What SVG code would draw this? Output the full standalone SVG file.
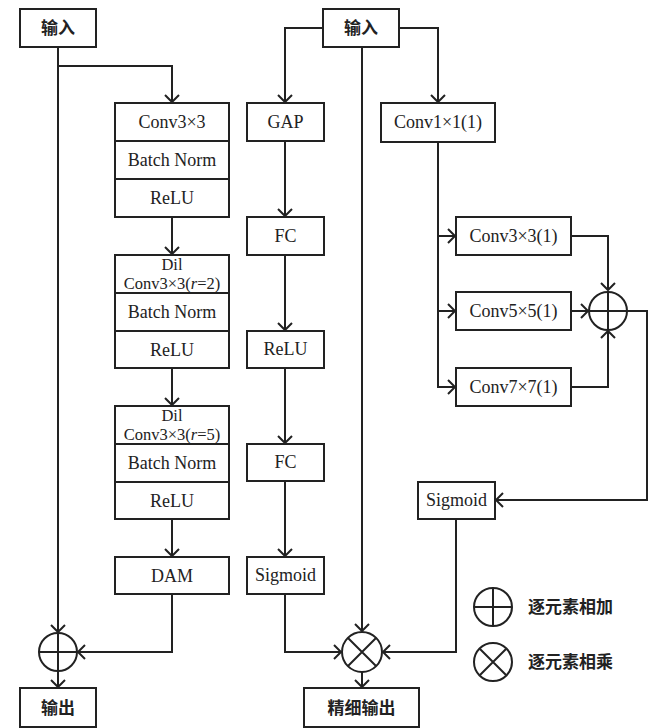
<svg xmlns="http://www.w3.org/2000/svg" width="648" height="728" viewBox="0 0 648 728">
<style>
.box{fill:#fff;stroke:#222;stroke-width:2}
.ln{fill:none;stroke:#222;stroke-width:2}
.t{font-family:"Liberation Serif","Times New Roman",serif;font-size:18px;fill:#222;text-anchor:middle}
.s{font-size:16.5px}
.c{font-family:"Noto Sans CJK SC","Noto Sans",sans-serif;font-size:17px;font-weight:bold;fill:#222;text-anchor:middle}
.lg{font-family:"Noto Sans CJK SC","Noto Sans",sans-serif;font-size:17px;font-weight:bold;fill:#222}
</style>
<defs>
<marker id="a" viewBox="-9 -9 11 18" markerWidth="11" markerHeight="18" refX="0" refY="0" orient="auto" markerUnits="userSpaceOnUse">
<path d="M-7,-7 L0,0 L-7,7" fill="none" stroke="#222" stroke-width="2"/>
</marker>
</defs>
<rect width="648" height="728" fill="#fff"/>

<g id="connectors">
<path class="ln" d="M58,47 V632" marker-end="url(#a)"/>
<path class="ln" d="M58,66 H172 V102" marker-end="url(#a)"/>
<path class="ln" d="M172,217 V254" marker-end="url(#a)"/>
<path class="ln" d="M172,368 V405" marker-end="url(#a)"/>
<path class="ln" d="M172,519 V556" marker-end="url(#a)"/>
<path class="ln" d="M172,594 V652 H78" marker-end="url(#a)"/>
<path class="ln" d="M58,671 V687" marker-end="url(#a)"/>

<path class="ln" d="M323,28 H285 V102" marker-end="url(#a)"/>
<path class="ln" d="M399,28 H438 V102" marker-end="url(#a)"/>
<path class="ln" d="M362,47 V631" marker-end="url(#a)"/>
<path class="ln" d="M285,141 V216" marker-end="url(#a)"/>
<path class="ln" d="M285,255 V330" marker-end="url(#a)"/>
<path class="ln" d="M285,368 V443" marker-end="url(#a)"/>
<path class="ln" d="M285,481 V556" marker-end="url(#a)"/>
<path class="ln" d="M285,594 V652 H341" marker-end="url(#a)"/>
<path class="ln" d="M362,672 V687" marker-end="url(#a)"/>
<path class="ln" d="M456,519 V652 H383" marker-end="url(#a)"/>

<path class="ln" d="M438,142 V387 H455" marker-end="url(#a)"/>
<path class="ln" d="M438,236 H455" marker-end="url(#a)"/>
<path class="ln" d="M438,311 H455" marker-end="url(#a)"/>
<path class="ln" d="M571,236 H608 V290" marker-end="url(#a)"/>
<path class="ln" d="M571,311 H588" marker-end="url(#a)"/>
<path class="ln" d="M571,387 H608 V331" marker-end="url(#a)"/>
<path class="ln" d="M627,311 H647 V500 H496" marker-end="url(#a)"/>
</g>

<g id="input1"><rect class="box" x="20" y="9" width="76" height="38"/><text class="c" x="58" y="34">输入</text></g>

<g id="stack1">
<rect class="box" x="115" y="103" width="114" height="114"/>
<path class="ln" d="M115,141 H229 M115,179 H229"/>
<text class="t" x="172" y="128">Conv3×3</text>
<text class="t" x="172" y="166">Batch Norm</text>
<text class="t" x="172" y="204">ReLU</text>
</g>

<g id="stack2">
<rect class="box" x="115" y="255" width="114" height="113"/>
<path class="ln" d="M115,293 H229 M115,331 H229"/>
<text class="t s" x="172" y="270">Dil</text>
<text class="t s" x="172" y="289">Conv3×3(<tspan font-style="italic">r</tspan>=2)</text>
<text class="t" x="172" y="318">Batch Norm</text>
<text class="t" x="172" y="356">ReLU</text>
</g>

<g id="stack3">
<rect class="box" x="115" y="406" width="114" height="113"/>
<path class="ln" d="M115,444 H229 M115,482 H229"/>
<text class="t s" x="172" y="421">Dil</text>
<text class="t s" x="172" y="440">Conv3×3(<tspan font-style="italic">r</tspan>=5)</text>
<text class="t" x="172" y="469">Batch Norm</text>
<text class="t" x="172" y="507">ReLU</text>
</g>

<g id="dam"><rect class="box" x="115" y="557" width="114" height="37"/><text class="t" x="172" y="582">DAM</text></g>

<g id="add1"><circle class="ln" cx="58" cy="652" r="19"/><path class="ln" d="M39,652 H77 M58,633 V671"/></g>
<g id="output1"><rect class="box" x="20" y="688" width="76" height="39"/><text class="c" x="58" y="714">输出</text></g>

<g id="input2"><rect class="box" x="323" y="9" width="76" height="38"/><text class="c" x="361" y="34">输入</text></g>

<g id="gap"><rect class="box" x="247" y="103" width="77" height="38"/><text class="t" x="285.5" y="128">GAP</text></g>
<g id="fc1"><rect class="box" x="247" y="217" width="77" height="38"/><text class="t" x="285.5" y="242">FC</text></g>
<g id="relu"><rect class="box" x="247" y="331" width="77" height="37"/><text class="t" x="285.5" y="355">ReLU</text></g>
<g id="fc2"><rect class="box" x="247" y="444" width="77" height="37"/><text class="t" x="285.5" y="468">FC</text></g>
<g id="sigmoid1"><rect class="box" x="247" y="557" width="77" height="37"/><text class="t" x="285.5" y="581">Sigmoid</text></g>

<g id="mul"><circle class="ln" cx="362" cy="652" r="20"/><path class="ln" d="M348,638 L376,666 M376,638 L348,666"/></g>
<g id="refined"><rect class="box" x="304" y="688" width="115" height="39"/><text class="c" x="361.5" y="714">精细输出</text></g>

<g id="conv1"><rect class="box" x="381" y="103" width="114" height="39"/><text class="t" x="438" y="128">Conv1×1(1)</text></g>
<g id="conv3"><rect class="box" x="456" y="217" width="115" height="38"/><text class="t" x="513.5" y="242">Conv3×3(1)</text></g>
<g id="conv5"><rect class="box" x="456" y="292" width="115" height="38"/><text class="t" x="513.5" y="317">Conv5×5(1)</text></g>
<g id="conv7"><rect class="box" x="456" y="368" width="115" height="38"/><text class="t" x="513.5" y="393">Conv7×7(1)</text></g>
<g id="add2"><circle class="ln" cx="608" cy="311" r="19"/><path class="ln" d="M589,311 H627 M608,292 V330"/></g>
<g id="sigmoid2"><rect class="box" x="418" y="482" width="77" height="37"/><text class="t" x="456.5" y="506">Sigmoid</text></g>

<g id="legend">
<circle class="ln" cx="493" cy="607" r="19"/><path class="ln" d="M474,607 H512 M493,588 V626"/>
<text class="lg" x="528" y="613">逐元素相加</text>
<circle class="ln" cx="493" cy="662" r="19"/><path class="ln" d="M480,649 L506,675 M506,649 L480,675"/>
<text class="lg" x="528" y="668">逐元素相乘</text>
</g>
</svg>
